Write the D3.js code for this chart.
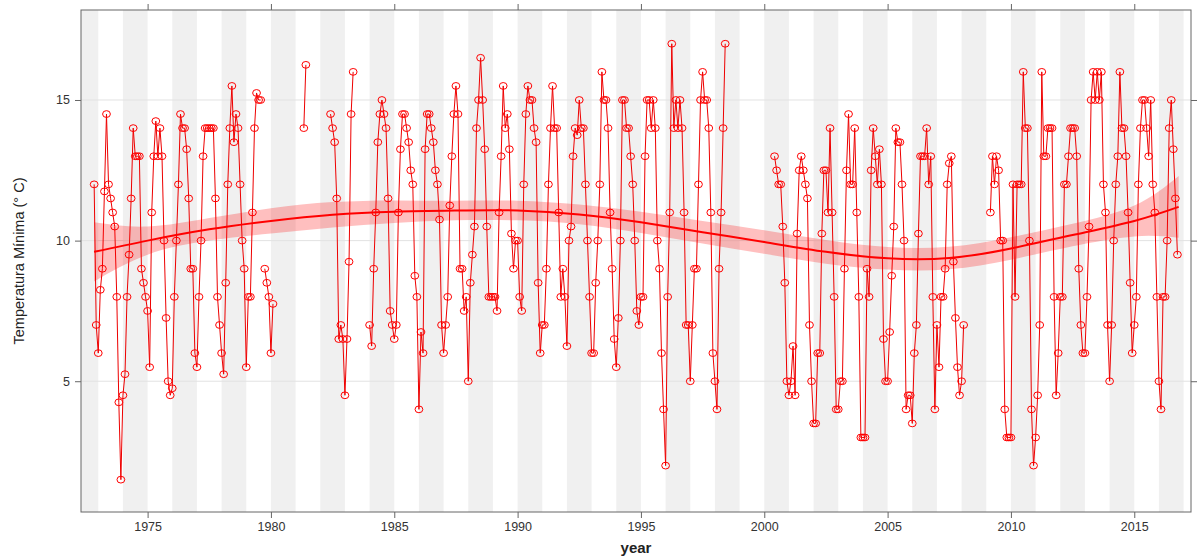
<!DOCTYPE html>
<html>
<head>
<meta charset="utf-8">
<script src="https://cdn.jsdelivr.net/npm/d3@7"></script>
<style>
body { margin: 0; background: #fff; }
text { font-family: "Liberation Sans", Arial, sans-serif; }
</style>
</head>
<body>
<svg id="chart" width="1197" height="557"></svg>
<script>
const NA = null;

// monthly minimum temperature, one row per year (Jan..Dec)
const tmin1970s = [
    NA, NA, NA, NA, NA, NA, NA, NA, NA, NA, 12.0, 7.0,
    6.0, 8.25, 9.0, 11.75, 14.5, 12.0, 11.5, 11.0, 10.5, 8.0, 4.25, 1.5,
    4.5, 5.25, 8.0, 9.5, 11.5, 14.0, 13.0, 13.0, 13.0, 9.0, 8.5, 8.0,
    7.5, 5.5, 11.0, 13.0, 14.25, 13.0, 14.0, 13.0, 10.0, 7.25, 5.0, 4.5,
    4.75, 8.0, 10.0, 12.0, 14.5, 14.0, 14.0, 13.25, 11.5, 9.0, 9.0, 6.0,
    5.5, 8.0, 10.0, 13.0, 14.0, 14.0, 14.0, 14.0, 14.0, 11.5, 8.0, 7.0,
    6.0, 5.25, 8.5, 12.0, 14.0, 15.5, 13.5, 14.5, 14.0, 12.0, 10.0, 9.0,
    5.5, 8.0, 8.0, 11.0, 14.0, 15.25, 15.0, 15.0, NA, 9.0, 8.5, 8.0
];
const tmin1980s = [
    6.0, 7.75, NA, NA, NA, NA, NA, NA, NA, NA, NA, NA,
    NA, NA, NA, NA, 14.0, 16.25, NA, NA, NA, NA, NA, NA,
    NA, NA, NA, NA, NA, 14.5, 14.0, 13.5, 11.5, 6.5, 7.0, 6.5,
    4.5, 6.5, 9.25, 14.5, 16.0, NA, NA, NA, NA, NA, NA, NA,
    7.0, 6.25, 9.0, 11.0, 13.5, 14.5, 15.0, 14.5, 14.0, 11.5, 7.5, 7.0,
    6.5, 7.0, 11.0, 13.25, 14.5, 14.5, 14.0, 13.5, 12.5, 12.0, 8.75, 8.0,
    4.0, 6.75, 6.0, 13.25, 14.5, 14.5, 14.0, 13.5, 12.5, 12.0, 10.75, 7.0,
    6.0, 7.0, 8.0, 11.25, 13.0, 14.5, 15.5, 14.5, 9.0, 9.0, 7.5, 8.0,
    5.0, 8.5, 9.5, 10.5, 14.0, 15.0, 16.5, 15.0, 13.25, 10.5, 8.0, 8.0,
    8.0, 8.0, 7.5, 11.0, 13.0, 15.5, 14.0, 14.5, 13.25, 10.25, 9.0, 10.0
];
const tmin1990s = [
    10.0, 8.0, 7.5, 12.0, 14.5, 15.5, 15.0, 15.0, 14.0, 13.5, 8.5, 6.0,
    7.0, 7.0, 9.0, 12.0, 14.0, 15.5, 14.0, 14.0, 11.0, 8.0, 9.0, 8.0,
    6.25, 10.0, 10.5, 13.0, 14.0, 13.75, 15.0, 14.0, 14.0, 12.0, 10.0, 8.0,
    6.0, 6.0, 8.5, 10.0, 12.0, 16.0, 15.0, 15.0, 14.0, 11.0, 9.0, 6.5,
    5.5, 7.25, 10.0, 15.0, 15.0, 14.0, 14.0, 13.0, 12.0, 10.0, 7.5, 7.0,
    8.0, 8.0, 13.0, 15.0, 15.0, 14.0, 15.0, 14.0, 10.0, 9.0, 6.0, 4.0,
    2.0, 8.0, 11.0, 17.0, 14.0, 15.0, 14.0, 15.0, 14.0, 11.0, 7.0, 7.0,
    5.0, 7.0, 9.0, 9.0, 12.0, 15.0, 16.0, 15.0, 15.0, 14.0, 11.0, 6.0,
    5.0, 4.0, 9.0, 11.0, 14.0, 17.0, NA, NA, NA, NA, NA, NA
];
const tmin2000s = [
    NA, NA, NA, NA, NA, 13.0, 12.5, 12.0, 12.0, 10.5, 8.5, 5.0,
    4.5, 5.0, 6.25, 4.5, 10.25, 12.5, 13.0, 12.5, 12.0, 11.5, 7.0, 5.0,
    3.5, 3.5, 6.0, 6.0, 10.25, 12.5, 12.5, 11.0, 14.0, 11.0, 8.0, 4.0,
    4.0, 5.0, 5.0, 9.0, 12.5, 14.5, 12.0, 12.0, 14.0, 11.0, 8.0, 3.0,
    3.0, 3.0, 9.0, 8.0, 12.5, 14.0, 13.0, 12.0, 13.25, 12.0, 6.5, 5.0,
    5.0, 6.75, 8.75, 10.5, 14.0, 13.5, 13.5, 12.0, 10.0, 4.0, 4.5, 4.5,
    3.5, 6.0, 7.0, 10.25, 13.0, 13.0, 13.0, 14.0, 12.0, 13.0, 8.0, 4.0,
    7.0, 5.5, 8.0, 8.0, 9.0, 12.0, 12.75, 13.0, 9.25, 7.25, 5.5, 4.5,
    5.0, 7.0, NA, NA, NA, NA, NA, NA, NA, NA, NA, NA,
    NA, NA, 11.0, 13.0, 12.0, 13.0, 12.5, 10.0, 10.0, 4.0, 3.0, 3.0
];
const tmin2010s = [
    3.0, 12.0, 8.0, 12.0, 12.0, 12.0, 16.0, 14.0, 14.0, 10.0, 4.0, 2.0,
    3.0, 4.5, 7.0, 16.0, 13.0, 13.0, 14.0, 14.0, 14.0, 8.0, 4.5, 6.0,
    8.0, 8.0, 12.0, 12.0, 13.0, 14.0, 14.0, 14.0, 13.0, 9.0, 7.0, 6.0,
    6.0, 8.0, 10.5, 15.0, 16.0, 15.0, 16.0, 15.0, 16.0, 12.0, 11.0, 7.0,
    5.0, 7.0, 10.0, 12.0, 13.0, 16.0, 14.0, 14.0, 13.0, 11.0, 8.5, 6.0,
    7.0, 8.0, 12.0, 14.0, 15.0, 15.0, 14.0, 13.0, 15.0, 12.0, 11.0, 8.0,
    5.0, 4.0, 8.0, 8.0, 10.0, 14.0, 15.0, 13.25, 11.5, 9.5
];

// loess trend and its confidence half-width
const smoothYear = [1972.83, 1975, 1977.5, 1980, 1982.5, 1985, 1987.5, 1990, 1992.5, 1995, 1997.5, 2000, 2002.5, 2005, 2007.5, 2010, 2012.5, 2015, 2016.8];
const smoothFit = [9.6, 10.0, 10.4, 10.7, 10.92, 11.03, 11.07, 11.07, 10.93, 10.65, 10.3, 9.95, 9.6, 9.37, 9.38, 9.72, 10.2, 10.7, 11.2];
const smoothHalf = [1.05, 0.5, 0.4, 0.45, 0.45, 0.4, 0.35, 0.35, 0.35, 0.38, 0.4, 0.42, 0.42, 0.4, 0.4, 0.4, 0.4, 0.55, 1.1];

const xTicks = [1975, 1980, 1985, 1990, 1995, 2000, 2005, 2010, 2015];
const yTicks = [5, 10, 15];

const W = 1197, H = 557;
const m = { left: 81, right: 6, top: 10, bottom: 45 };

const monthly = (start, values) => values.map((v, i) => ({ t: start + i / 12, v: v }));
const series = [].concat(
    monthly(1972, tmin1970s),
    monthly(1980, tmin1980s),
    monthly(1990, tmin1990s),
    monthly(2000, tmin2000s),
    monthly(2010, tmin2010s)
);
const smooth = smoothYear.map((t, i) => ({ t: t, fit: smoothFit[i], lo: smoothFit[i] - smoothHalf[i], hi: smoothFit[i] + smoothHalf[i] }));

const x = d3.scaleLinear().domain([1972.3, 2017.3]).range([m.left, W - m.right]);
const y = d3.scaleLinear().domain([0.35, 18.2]).range([H - m.bottom, m.top]);

const svg = d3.select("#chart");

svg.append("defs").append("clipPath").attr("id", "plot-clip")
    .append("rect")
    .attr("x", m.left).attr("y", m.top)
    .attr("width", W - m.right - m.left).attr("height", H - m.bottom - m.top);

const panel = svg.append("g").attr("clip-path", "url(#plot-clip)");

// alternating year blocks
const years = d3.range(1972, 2018).filter(d => d % 2 == 0);
panel.selectAll(".block")
    .data(years)
    .enter().append("rect")
    .attr("class", "block")
    .attr("x", d => x(d))
    .attr("y", m.top)
    .attr("width", d => x(d + 1) - x(d))
    .attr("height", H - m.bottom - m.top)
    .style("fill", "#f0f0f0");

panel.selectAll(".hgrid")
    .data(yTicks)
    .enter().append("line")
    .attr("class", "hgrid")
    .attr("x1", m.left).attr("x2", W - m.right)
    .attr("y1", d => y(d)).attr("y2", d => y(d))
    .style("stroke", "#e2e2e2")
    .style("stroke-width", 1);

// observed series
panel.append("path")
    .datum(series)
    .attr("d", d3.line().defined(d => d.v != null).x(d => x(d.t)).y(d => y(d.v)))
    .style("fill", "none")
    .style("stroke", "#ee0000")
    .style("stroke-width", 1);

panel.selectAll(".pt")
    .data(series.filter(d => d.v != null))
    .enter().append("ellipse")
    .attr("class", "pt")
    .attr("cx", d => x(d.t))
    .attr("cy", d => y(d.v))
    .attr("rx", 3.9)
    .attr("ry", 3.4)
    .style("fill", "none")
    .style("stroke", "#ff0000")
    .style("stroke-width", 1);

// smoother band + line
panel.append("path")
    .datum(smooth)
    .attr("d", d3.area().curve(d3.curveNatural).x(d => x(d.t)).y0(d => y(d.lo)).y1(d => y(d.hi)))
    .style("fill", "#ff0000")
    .style("fill-opacity", 0.25)
    .style("stroke", "none");

panel.append("path")
    .datum(smooth)
    .attr("d", d3.line().curve(d3.curveNatural).x(d => x(d.t)).y(d => y(d.fit)))
    .style("fill", "none")
    .style("stroke", "#ff0000")
    .style("stroke-width", 2);

// frame and axes on all four sides
svg.append("rect")
    .attr("x", m.left).attr("y", m.top)
    .attr("width", W - m.right - m.left).attr("height", H - m.bottom - m.top)
    .style("fill", "none")
    .style("stroke", "#666")
    .style("stroke-width", 1);

const axes = [
    svg.append("g").attr("transform", "translate(0," + (H - m.bottom) + ")")
        .call(d3.axisBottom(x).tickValues(xTicks).tickSize(6).tickPadding(4).tickFormat(d3.format("d"))),
    svg.append("g").attr("transform", "translate(0," + m.top + ")")
        .call(d3.axisTop(x).tickValues(xTicks).tickSize(6).tickFormat("")),
    svg.append("g").attr("transform", "translate(" + m.left + ",0)")
        .call(d3.axisLeft(y).tickValues(yTicks).tickSize(6).tickPadding(5)),
    svg.append("g").attr("transform", "translate(" + (W - m.right) + ",0)")
        .call(d3.axisRight(y).tickValues(yTicks).tickSize(6).tickFormat(""))
];
axes.forEach(g => {
    g.select(".domain").remove();
    g.selectAll(".tick line").style("stroke", "#666");
    g.selectAll(".tick text")
        .style("fill", "#333")
        .style("font-size", "12.5px")
        .style("font-family", "'Liberation Sans', Arial, sans-serif");
});

svg.append("text")
    .attr("x", (m.left + W - m.right) / 2)
    .attr("y", 553)
    .attr("text-anchor", "middle")
    .style("font-size", "15px")
    .style("font-weight", "bold")
    .style("fill", "#222")
    .text("year");

svg.append("text")
    .attr("transform", "translate(24," + ((m.top + H - m.bottom) / 2) + ") rotate(-90)")
    .attr("text-anchor", "middle")
    .style("font-size", "14.5px")
    .style("fill", "#222")
    .text("Temperatura Mínima (° C)");
</script>
</body>
</html>
